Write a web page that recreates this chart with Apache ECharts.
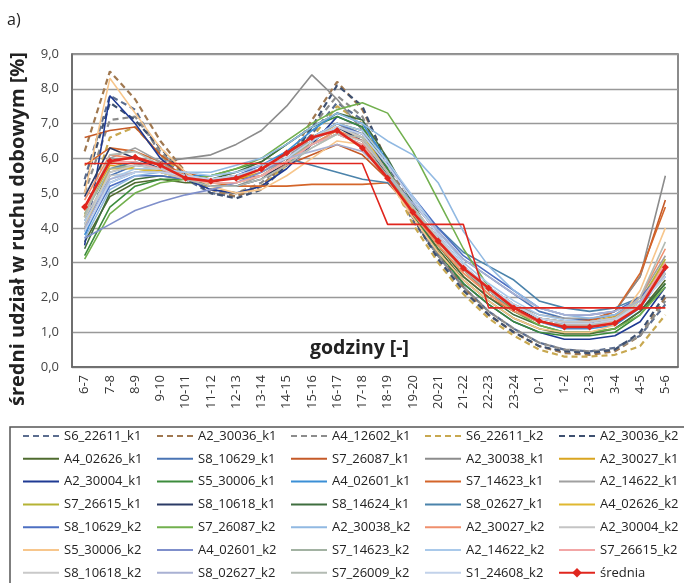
<!DOCTYPE html>
<html>
<head>
<meta charset="utf-8">
<script src="https://cdn.jsdelivr.net/npm/echarts@6/dist/echarts.min.js"></script>
<style>
html,body{margin:0;padding:0;background:#fff;}
#c{width:684px;height:583px;}
</style>
</head>
<body>
<div id="c"></div>
<script>
// ---- data ----
const hours = ['6-7','7-8','8-9','9-10','10-11','11-12','12-13','13-14','14-15','15-16','16-17','17-18','18-19','19-20','20-21','21-22','22-23','23-24','0-1','1-2','2-3','3-4','4-5','5-6'];
const yTicks = [0,1,2,3,4,5,6,7,8,9];

const S6_22611_k1 = [5.4,7.8,7.4,6.1,5.4,5.0,4.9,5.2,5.9,6.7,7.6,7.1,5.6,4.2,3.2,2.3,1.6,1.1,0.7,0.5,0.45,0.55,0.9,1.8];
const A2_30036_k1 = [6.2,8.5,7.7,6.5,5.6,5.1,4.9,5.2,5.9,7.1,8.2,7.4,5.9,4.5,3.3,2.3,1.5,1.0,0.6,0.4,0.35,0.45,0.9,2.0];
const A4_12602_k1 = [5.0,7.1,7.2,6.2,5.5,5.1,5.0,5.3,5.9,6.9,7.8,7.2,5.7,4.3,3.2,2.3,1.6,1.1,0.7,0.5,0.45,0.5,0.9,1.9];
const S6_22611_k2 = [4.3,6.6,6.9,6.1,5.5,5.1,5.0,5.2,5.8,6.6,7.5,7.0,5.6,4.1,3.0,2.1,1.4,0.9,0.5,0.3,0.3,0.35,0.6,1.5];
const A2_30036_k2 = [5.2,7.6,7.1,6.3,5.5,5.0,4.85,5.1,5.8,6.9,8.1,7.5,5.8,4.3,3.1,2.2,1.5,1.0,0.6,0.45,0.4,0.5,1.0,2.1];
const A4_02626_k1 = [3.6,4.9,5.3,5.4,5.3,5.3,5.5,5.7,6.2,6.6,7.0,6.8,5.6,4.4,3.4,2.5,1.9,1.4,1.1,0.95,0.95,1.1,1.6,2.5];
const S8_10629_k1 = [4.0,5.5,5.8,5.7,5.5,5.4,5.5,5.7,6.0,6.4,6.7,6.4,5.6,4.7,3.9,3.1,2.6,2.1,1.6,1.4,1.35,1.5,1.9,2.8];
const S7_26087_k1 = [6.6,6.8,6.9,6.1,5.6,5.4,5.4,5.5,5.8,6.1,6.4,6.1,5.4,4.5,3.7,2.9,2.2,1.7,1.4,1.3,1.35,1.6,2.6,4.8];
const A2_30038_k1 = [4.2,5.6,5.8,5.9,6.0,6.1,6.4,6.8,7.5,8.4,7.7,6.8,5.7,4.6,3.7,2.8,2.1,1.6,1.3,1.2,1.3,1.6,2.6,5.5];
const A2_30027_k1 = [4.5,5.8,5.7,5.65,5.5,5.4,5.4,5.6,6.0,6.5,6.9,6.6,5.5,4.5,3.6,2.8,2.2,1.7,1.4,1.3,1.3,1.45,1.9,3.0];
const A2_30004_k1 = [3.5,7.8,7.0,6.0,5.4,5.1,5.0,5.2,5.7,6.4,7.2,6.9,5.6,4.4,3.3,2.4,1.8,1.3,1.0,0.8,0.8,0.9,1.3,2.3];
const S5_30006_k1 = [3.2,4.6,5.2,5.4,5.4,5.5,5.7,5.9,6.4,6.9,7.2,6.9,5.7,4.4,3.3,2.4,1.8,1.3,1.0,0.9,0.9,1.0,1.5,2.4];
const A4_02601_k1 = [3.8,5.3,5.6,5.6,5.5,5.5,5.6,5.8,6.2,6.8,7.3,7.0,5.9,4.8,3.8,2.9,2.2,1.6,1.3,1.1,1.1,1.2,1.7,2.7];
const S7_14623_k1 = [5.8,6.3,6.2,5.9,5.5,5.3,5.2,5.2,5.2,5.25,5.25,5.25,5.3,4.5,3.5,2.6,2.0,1.6,1.3,1.2,1.3,1.6,2.7,4.6];
const A2_14622_k1 = [4.6,6.0,6.3,5.9,5.4,5.2,5.2,5.5,6.0,6.6,7.0,6.6,5.5,4.5,3.6,2.8,2.3,1.8,1.5,1.4,1.4,1.5,2.0,3.2];
const S7_26615_k1 = [4.4,5.9,5.7,5.6,5.4,5.3,5.3,5.5,5.9,6.4,6.8,6.5,5.5,4.5,3.6,2.8,2.2,1.7,1.3,1.2,1.2,1.35,1.9,3.1];
const S8_10618_k1 = [4.9,6.3,6.0,5.7,5.4,5.2,5.2,5.4,5.9,6.5,6.9,6.5,5.5,4.6,3.6,2.8,2.2,1.7,1.4,1.25,1.25,1.4,1.8,2.7];
const S8_14624_k1 = [3.4,5.0,5.4,5.5,5.4,5.4,5.6,5.9,6.4,6.9,7.3,7.1,6.0,4.7,3.5,2.6,2.0,1.5,1.2,1.0,1.0,1.1,1.6,2.4];
const S8_02627_k1 = [4.1,5.7,5.9,5.7,5.5,5.4,5.5,5.7,6.0,5.8,5.6,5.4,5.3,4.7,4.0,3.3,2.9,2.5,1.9,1.7,1.6,1.7,2.0,2.7];
const A4_02626_k2 = [4.0,5.7,5.7,5.6,5.4,5.3,5.3,5.5,5.9,6.5,7.0,6.7,5.6,4.5,3.5,2.7,2.1,1.6,1.3,1.2,1.2,1.3,1.8,2.9];
const S8_10629_k2 = [3.9,5.2,5.5,5.5,5.4,5.4,5.5,5.8,6.1,6.6,7.0,6.7,5.8,4.9,4.0,3.2,2.7,2.2,1.7,1.5,1.5,1.6,2.0,2.8];
const S7_26087_k2 = [3.1,4.4,5.0,5.3,5.4,5.5,5.7,6.0,6.5,7.0,7.4,7.6,7.3,6.2,4.8,3.4,2.3,1.6,1.2,1.0,1.0,1.1,1.5,2.3];
const A2_30038_k2 = [3.7,5.1,5.5,5.6,5.6,5.6,5.8,6.0,6.4,6.9,7.3,7.0,6.5,6.1,5.3,3.9,2.9,2.2,1.7,1.5,1.4,1.5,1.9,2.7];
const A2_30027_k2 = [4.8,6.1,6.0,5.8,5.5,5.3,5.3,5.5,5.9,6.4,6.8,6.5,5.4,4.4,3.5,2.7,2.1,1.6,1.3,1.2,1.2,1.4,2.0,3.4];
const A2_30004_k2 = [4.3,5.5,5.6,5.6,5.4,5.3,5.3,5.5,5.9,6.3,6.7,6.5,5.6,4.6,3.7,2.9,2.3,1.8,1.4,1.3,1.3,1.4,1.9,2.9];
const S5_30006_k2 = [5.0,8.3,7.3,6.3,5.6,5.2,5.0,5.1,5.5,6.0,6.5,6.4,5.4,4.3,3.3,2.5,1.9,1.4,1.1,1.0,1.0,1.2,2.2,4.0];
const A4_02601_k2 = [3.7,4.1,4.5,4.75,4.95,5.1,5.3,5.6,6.0,6.5,6.9,6.7,5.8,4.8,3.8,2.9,2.3,1.8,1.4,1.3,1.3,1.4,1.8,2.6];
const S7_14623_k2 = [4.4,5.7,5.8,5.7,5.5,5.4,5.5,5.7,6.0,6.4,6.7,6.4,5.5,4.6,3.7,2.9,2.3,1.8,1.4,1.3,1.3,1.4,1.8,2.7];
const A2_14622_k2 = [4.2,5.4,5.7,5.7,5.6,5.5,5.6,5.8,6.1,6.6,7.0,6.8,5.9,4.9,3.9,3.0,2.4,1.9,1.5,1.35,1.3,1.4,1.8,2.6];
const S7_26615_k2 = [4.5,5.9,5.9,5.7,5.4,5.3,5.3,5.5,5.9,6.4,6.7,6.4,5.4,4.5,3.6,2.8,2.2,1.7,1.3,1.2,1.2,1.3,1.8,3.0];
const S8_10618_k2 = [4.1,5.6,5.8,5.7,5.5,5.4,5.5,5.7,6.1,6.6,6.9,6.6,5.6,4.6,3.7,2.9,2.3,1.8,1.4,1.3,1.3,1.4,1.8,2.7];
const S8_02627_k2 = [4.0,5.4,5.6,5.6,5.5,5.4,5.5,5.7,6.0,6.2,6.4,6.2,5.5,4.7,3.9,3.1,2.6,2.1,1.7,1.5,1.5,1.6,1.9,2.6];
const S7_26009_k2 = [4.3,6.1,6.2,5.8,5.4,5.2,5.2,5.4,5.8,6.3,6.7,6.6,5.6,4.6,3.6,2.8,2.2,1.7,1.3,1.2,1.2,1.35,2.0,3.6];
const S1_24608_k2 = [3.9,5.3,5.6,5.6,5.5,5.4,5.5,5.7,6.0,6.5,6.9,6.7,5.8,4.8,3.8,2.9,2.3,1.8,1.4,1.25,1.25,1.35,1.8,2.6];
const srednia = [4.6,5.92,6.03,5.8,5.43,5.34,5.43,5.69,6.15,6.6,6.8,6.3,5.43,4.45,3.62,2.84,2.27,1.7,1.32,1.15,1.15,1.26,1.72,2.87];
const stopnie = [5.85,5.85,5.85,5.85,5.85,5.85,5.85,5.85,5.85,5.85,5.85,5.85,4.1,4.1,4.1,4.1,1.7,1.7,1.7,1.7,1.7,1.7,1.7,1.7];

// ---- series setup (name, values) ----
const seriesData = [
  ['S6_22611_k1', S6_22611_k1], ['A2_30036_k1', A2_30036_k1], ['A4_12602_k1', A4_12602_k1], ['S6_22611_k2', S6_22611_k2], ['A2_30036_k2', A2_30036_k2],
  ['A4_02626_k1', A4_02626_k1], ['S8_10629_k1', S8_10629_k1], ['S7_26087_k1', S7_26087_k1], ['A2_30038_k1', A2_30038_k1], ['A2_30027_k1', A2_30027_k1],
  ['A2_30004_k1', A2_30004_k1], ['S5_30006_k1', S5_30006_k1], ['A4_02601_k1', A4_02601_k1], ['S7_14623_k1', S7_14623_k1], ['A2_14622_k1', A2_14622_k1],
  ['S7_26615_k1', S7_26615_k1], ['S8_10618_k1', S8_10618_k1], ['S8_14624_k1', S8_14624_k1], ['S8_02627_k1', S8_02627_k1], ['A4_02626_k2', A4_02626_k2],
  ['S8_10629_k2', S8_10629_k2], ['S7_26087_k2', S7_26087_k2], ['A2_30038_k2', A2_30038_k2], ['A2_30027_k2', A2_30027_k2], ['A2_30004_k2', A2_30004_k2],
  ['S5_30006_k2', S5_30006_k2], ['A4_02601_k2', A4_02601_k2], ['S7_14623_k2', S7_14623_k2], ['A2_14622_k2', A2_14622_k2], ['S7_26615_k2', S7_26615_k2],
  ['S8_10618_k2', S8_10618_k2], ['S8_02627_k2', S8_02627_k2], ['S7_26009_k2', S7_26009_k2], ['S1_24608_k2', S1_24608_k2]
];
const colors = [
  '#5b6d8f','#a07850','#8c8c8c','#c8a850','#3e5070',
  '#4f6b2f','#4a74b4','#c55a28','#8c8c8c','#d9a520',
  '#1f3a93','#3c8c3c','#3b8fd6','#d4652a','#a0a0a0',
  '#b5b335','#2b3b66','#3f6e3f','#4b83ab','#e0b830',
  '#4d6fc2','#72b04e','#91b9e2','#ef8f6d','#c4c4c4',
  '#f7c68c','#7f8fcb','#a2b2a2','#a9c9ea','#f2a6a6',
  '#c9c9c9','#a9b1d3','#b3bbb3','#c2d2ea'
];
const RED = '#e0261e';

const series = seriesData.map((d, i) => ({
  name: d[0], type: 'line', data: d[1], symbol: 'none', silent: true,
  lineStyle: { color: colors[i], width: i < 5 ? 2.2 : 1.6, type: i < 5 ? [6, 4] : 'solid' },
  itemStyle: { color: colors[i] }, z: 2
}));
series.push({
  name: 'średnia', type: 'line', data: srednia, symbol: 'diamond', symbolSize: 7,
  lineStyle: { color: RED, width: 2.6 }, itemStyle: { color: RED }, z: 5
});
series.push({
  name: 'stopnie', type: 'line', data: stopnie, symbol: 'none',
  lineStyle: { color: RED, width: 1.6 }, z: 4
});

const legendItems = seriesData.map(d => ({ name: d[0], itemStyle: { opacity: 0 } }));
legendItems.push({ name: 'średnia', itemStyle: { opacity: 1, color: RED } });

// one vertical legend per column (5 columns, 7 rows, row-major order)
const legends = [];
for (let c = 0; c < 5; c++) {
  const items = [];
  for (let r = 0; r < 7; r++) items.push(legendItems[r * 5 + c]);
  legends.push({
    data: items, orient: 'vertical', align: 'left', left: 22 + 134 * c, top: 428, padding: 0,
    itemWidth: 36, itemHeight: 12, itemGap: 6.8,
    textStyle: { fontSize: 13, fontFamily: 'Open Sans', color: '#222', lineHeight: 16 },
    selectedMode: false
  });
}

const chart = echarts.init(document.getElementById('c'), null, { renderer: 'canvas' });
chart.setOption({
  animation: false,
  backgroundColor: '#fff',
  grid: { left: 72, right: 6, top: 54, bottom: 216, show: true, borderColor: '#666', borderWidth: 1.5 },
  xAxis: {
    type: 'category', data: hours, boundaryGap: true,
    axisLine: { show: true, lineStyle: { color: '#666', width: 1.5 } },
    axisTick: { show: false },
    axisLabel: { interval: 0, rotate: 90, color: '#333', fontSize: 13, fontFamily: 'Open Sans', margin: 8 }
  },
  yAxis: {
    type: 'value', min: yTicks[0], max: yTicks[yTicks.length - 1], interval: 1,
    axisLine: { show: true, lineStyle: { color: '#666', width: 1.5 } },
    axisTick: { show: false },
    splitLine: { lineStyle: { color: '#999', width: 1.3 } },
    axisLabel: { color: '#444', fontSize: 13, fontFamily: 'Open Sans', margin: 13,
      formatter: v => v.toFixed(1).replace('.', ',') }
  },
  legend: legends,
  graphic: [
    { type: 'text', left: 7, top: 12, style: { text: 'a)', fontSize: 16, fontFamily: 'Open Sans', fill: '#222' } },
    { type: 'text', x: 18, y: 229, rotation: Math.PI / 2,
      style: { text: 'średni udział w ruchu dobowym [%]', fontSize: 20, fontWeight: 'bold', fontFamily: 'Open Sans', fill: '#222', align: 'center', verticalAlign: 'middle' } },
    { type: 'text', left: 310, top: 338, style: { text: 'godziny [-]', fontSize: 19.5, fontWeight: 'bold', fontFamily: 'Open Sans', fill: '#222' }, z: 10 },
    { type: 'rect', shape: { x: 10, y: 427, width: 680, height: 160 }, style: { fill: 'none', stroke: '#555', lineWidth: 1.5 }, z: -1 }
  ],
  series: series
});
</script>
</body>
</html>
